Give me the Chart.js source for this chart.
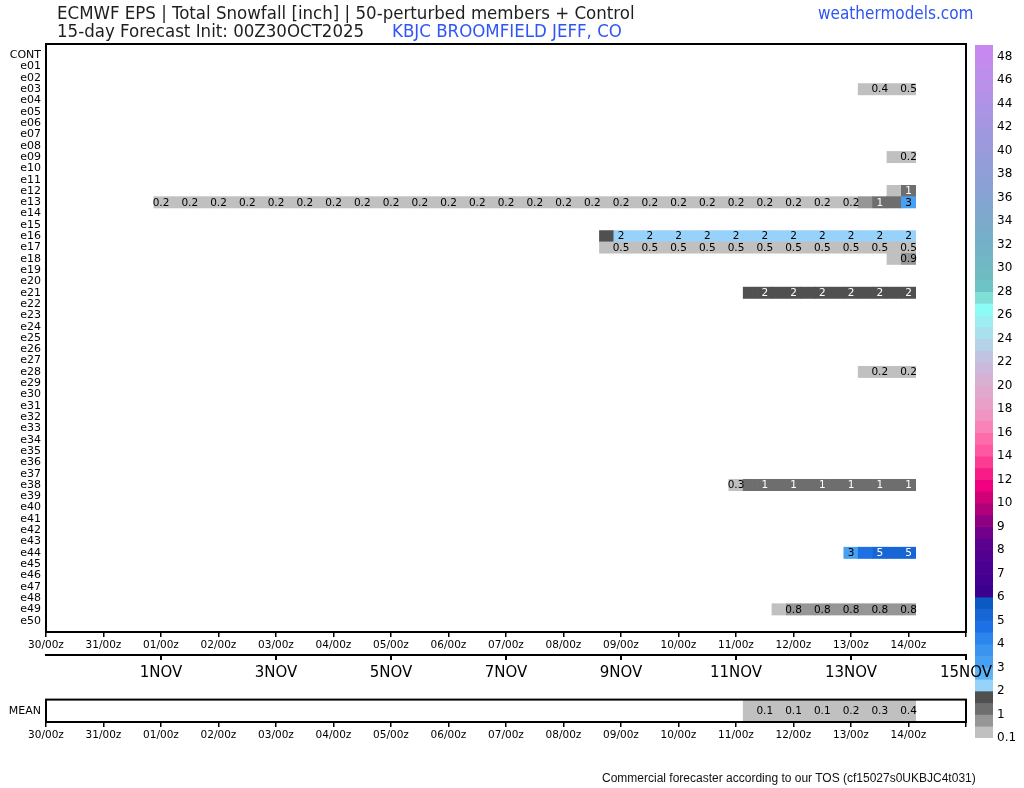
<!DOCTYPE html>
<html>
<head>
<meta charset="utf-8">
<script src="https://cdn.jsdelivr.net/npm/chart.js@4.4.1/dist/chart.umd.min.js"></script>
<style>
  body { margin: 0; background: #fff; width: 1024px; height: 788px; position: relative; overflow: hidden; }
  canvas { position: absolute; }
  .txt { position: absolute; white-space: nowrap; line-height: 1; }
  #title, #sub, #station, #site { font-family: 'Liberation Sans Narrow', 'DejaVu Sans Condensed', 'Roboto', sans-serif; font-size: 18.5px; color: #1e1e1e; }
  #title { left: 57px; top: 4px; }
  #sub { left: 57px; top: 22px; }
  #station { left: 392px; top: 22px; color: #2f55f4; }
  #site { left: 818px; top: 5px; font-size: 17px; color: #2f55f4; }
  #foot { left: 602px; top: 771px; font: 12px 'Liberation Sans', Arial, sans-serif; color: #111; }
</style>
</head>
<body>
<canvas id="bar" width="64" height="788" style="left:960px;top:0"></canvas>
<canvas id="grid" width="1024" height="690" style="left:0;top:0"></canvas>
<canvas id="mean" width="1024" height="60" style="left:0;top:688px"></canvas>
<div class="txt" id="title">ECMWF EPS | Total Snowfall [inch] | 50-perturbed members + Control</div>
<div class="txt" id="sub">15-day Forecast Init: 00Z30OCT2025</div>
<div class="txt" id="station">KBJC BROOMFIELD JEFF, CO</div>
<div class="txt" id="site">weathermodels.com</div>
<div class="txt" id="foot">Commercial forecaster according to our TOS (cf15027s0UKBJC4t031)</div>
<script>
// rows, top to bottom
const memberNames = ['CONT', 'e01', 'e02', 'e03', 'e04', 'e05', 'e06', 'e07', 'e08', 'e09', 'e10',
  'e11', 'e12', 'e13', 'e14', 'e15', 'e16', 'e17', 'e18', 'e19', 'e20',
  'e21', 'e22', 'e23', 'e24', 'e25', 'e26', 'e27', 'e28', 'e29', 'e30',
  'e31', 'e32', 'e33', 'e34', 'e35', 'e36', 'e37', 'e38', 'e39', 'e40',
  'e41', 'e42', 'e43', 'e44', 'e45', 'e46', 'e47', 'e48', 'e49', 'e50'];

const dayLabels = ['30/00z', '31/00z', '01/00z', '02/00z', '03/00z', '04/00z', '05/00z', '06/00z',
  '07/00z', '08/00z', '09/00z', '10/00z', '11/00z', '12/00z', '13/00z', '14/00z'];
const dateLabels = ['1NOV', '3NOV', '5NOV', '7NOV', '9NOV', '11NOV', '13NOV', '15NOV'];

// accumulated snowfall [inch], 6-hourly, starting at the first step that has snow
const e03 = { from: '13/06z', snow: [0.3, 0.4, 0.45, 0.47] };
const e09 = { from: '13/18z', snow: [0.15, 0.2] };
const e12 = { from: '13/18z', snow: [0.3, 1.1] };
const e13 = { from: '01/00z', snow: [0.2, 0.2, 0.2, 0.2, 0.2, 0.2, 0.2, 0.2, 0.2, 0.2, 0.2, 0.2, 0.2, 0.2,
  0.2, 0.2, 0.2, 0.2, 0.2, 0.2, 0.2, 0.2, 0.2, 0.2, 0.2, 0.2, 0.2, 0.2, 0.2, 0.2, 0.2, 0.2, 0.2, 0.2, 0.2,
  0.2, 0.2, 0.2, 0.2, 0.2, 0.2, 0.2, 0.2, 0.2, 0.2, 0.2, 0.2, 0.2, 0.2, 0.7, 1.2, 1.3, 3.2] };
const e16 = { from: '08/18z', snow: [1.7, 2.2, 2.2, 2.2, 2.2, 2.2, 2.2, 2.2, 2.2, 2.2, 2.2, 2.2,
  2.2, 2.2, 2.2, 2.2, 2.2, 2.2, 2.2, 2.2, 2.2, 2.2] };
const e17 = { from: '08/18z', snow: [0.46, 0.46, 0.46, 0.46, 0.46, 0.46, 0.46, 0.46, 0.46, 0.46, 0.46,
  0.46, 0.46, 0.46, 0.46, 0.46, 0.46, 0.46, 0.46, 0.46, 0.46, 0.46] };
const e18 = { from: '13/18z', snow: [0.4, 0.9] };
const e21 = { from: '11/06z', snow: [1.8, 1.8, 1.8, 1.8, 1.8, 1.8, 1.8, 1.8, 1.8, 1.8, 1.8, 1.8] };
const e28 = { from: '13/06z', snow: [0.2, 0.2, 0.2, 0.2] };
const e38 = { from: '11/00z', snow: [0.3, 1.1, 1.1, 1.1, 1.1, 1.1, 1.1, 1.1, 1.1, 1.1, 1.1, 1.1, 1.1] };
const e44 = { from: '13/00z', snow: [3.2, 4.8, 5.2, 5.2, 5.2] };
const e49 = { from: '11/18z', snow: [0.4, 0.8, 0.8, 0.8, 0.8, 0.8, 0.8, 0.8, 0.8, 0.8] };
const ensMean = { from: '11/06z', snow: [0.1, 0.1, 0.1, 0.1, 0.1, 0.1, 0.15, 0.2, 0.25, 0.3, 0.35, 0.4] };

// colour scale: lower bound of every band, its colour, and the labels on the bar
const levels = [0.1, 0.5, 1, 1.5, 2, 2.5, 3, 3.5, 4, 4.5, 5, 5.5, 6, 6.5, 7, 7.5, 8, 8.5, 9, 9.5,
  10, 11, 12, 13, 14, 15, 16, 17, 18, 19, 20, 21, 22, 23, 24, 25, 26, 27, 28, 29,
  30, 31, 32, 33, 34, 35, 36, 37, 38, 39, 40, 41, 42, 43, 44, 45, 46, 47, 48];
const levelColors = ['#c0c0c0', '#969696', '#6e6e6e', '#505050',
  '#96d2fa', '#5ab4f5', '#48a0f0', '#3a94f0', '#2a86ea', '#1e70e6', '#1866d6', '#0a5ac2',
  '#3c008e', '#440090', '#4a0090', '#520090', '#5c0090', '#72008a', '#900082', '#b0007a',
  '#d00078', '#f00080', '#f81c86', '#fc3c92', '#ff58a2', '#ff6cac', '#fa82b8', '#f094c2', '#e8a0c8', '#e0a8cc',
  '#d8b0d2', '#ccb8da', '#c0c4e2', '#b4d2e8', '#a8e0ec', '#9ceef2', '#8cfcf6', '#80e0d8', '#6ec4c4',
  '#6ebcc2', '#70b8c4', '#72b4c6', '#76b0c8', '#7aacca', '#7ea8cc', '#82a6d0', '#88a2d4', '#8ca0d6',
  '#929ed8', '#969cda', '#9c9adc', '#a098de', '#a696e2', '#ac94e4', '#b292e6', '#b890e8', '#be8eec',
  '#c48cee', '#c888f2'];
const barTickLabels = ['0.1', '1', '2', '3', '4', '5', '6', '7', '8', '9', '10', '12', '14', '16', '18',
  '20', '22', '24', '26', '28', '30', '32', '34', '36', '38', '40', '42', '44', '46', '48'];

Chart.defaults.font.family = 'DejaVu Sans';
Chart.defaults.font.size = 10.5;
Chart.defaults.color = '#000';

function hoursOf(stamp) {
  const day = parseInt(stamp.slice(0, 2), 10);
  const hh = parseInt(stamp.slice(3, 5), 10);
  return (day >= 30 ? day - 30 : day + 1) * 24 + hh;
}

function levelIndex(v) {
  let idx = 0;
  levels.forEach((lv, i) => { if (v >= lv) idx = i; });
  return idx;
}

function textColor(hex) {
  const r = parseInt(hex.slice(1, 3), 16), g = parseInt(hex.slice(3, 5), 16), b = parseInt(hex.slice(5, 7), 16);
  return (0.299 * r + 0.587 * g + 0.114 * b) / 255 < 0.45 ? '#fff' : '#000';
}

const fmt = v => v < 1 ? v.toFixed(1) : String(Math.round(v));

function buildCells(runs) {
  const cells = [];
  Object.entries(runs).forEach(([name, run]) => {
    const h0 = hoursOf(run.from);
    run.snow.forEach((v, i) => {
      const h = h0 + i * 6;
      cells.push({ x: [h - 3, h + 3], y: name, v, h });
    });
  });
  return cells;
}

const dayTicks = dayLabels.map(hoursOf).concat([384]);
const dateTicks = dateLabels.map(s => (parseInt(s, 10) + 1) * 24);

// black frame round the plot area
const framePlugin = {
  id: 'frame',
  afterDraw(chart) {
    const { ctx, chartArea: a } = chart;
    if (!chart.options.plugins.frame) return;
    ctx.save();
    ctx.strokeStyle = '#000';
    ctx.lineWidth = 2;
    ctx.strokeRect(a.left, a.top, a.right - a.left, a.bottom - a.top);
    ctx.restore();
  }
};

// numbers written into the 00z/12z cells
const cellText = {
  id: 'cellText',
  afterDatasetsDraw(chart) {
    if (!chart.options.plugins.cellText) return;
    const { ctx } = chart;
    const ds = chart.data.datasets[0];
    chart.getDatasetMeta(0).data.forEach((bar, i) => {
      const c = ds.data[i];
      if (c.h % 12 !== 0) return;
      const p = bar.getCenterPoint();
      ctx.save();
      ctx.font = '10.5px "DejaVu Sans"';
      ctx.textAlign = 'center';
      ctx.textBaseline = 'middle';
      ctx.fillStyle = textColor(levelColors[levelIndex(c.v)]);
      ctx.fillText(fmt(c.v), p.x, p.y + 0.5);
      ctx.restore();
    });
  }
};

function timeAxis(height, weight) {
  return {
    type: 'linear', position: 'bottom', min: 0, max: 384, weight,
    afterBuildTicks: s => { s.ticks = dayTicks.map(value => ({ value })); },
    afterFit: s => { s.height = height; },
    ticks: { callback: (v, i) => dayLabels[i] || '', autoSkip: false, maxRotation: 0, padding: 1.5 },
    grid: { drawOnChartArea: false, tickLength: 5, color: '#000', lineWidth: 1.5 },
    border: { display: false }
  };
}

new Chart(document.getElementById('grid'), {
  type: 'bar',
  data: {
    labels: [''].concat(memberNames, [' ']),
    datasets: [{
      data: buildCells({ e03, e09, e12, e13, e16, e17, e18, e21, e28, e38, e44, e49 }),
      backgroundColor: c => c.raw ? levelColors[levelIndex(c.raw.v)] : '#fff',
      grouped: false, barPercentage: 1, categoryPercentage: 1, borderWidth: 0
    }]
  },
  options: {
    indexAxis: 'y', responsive: false, animation: false,
    layout: { padding: { top: 44, right: 58, left: 0, bottom: 0 } },
    plugins: { legend: { display: false }, tooltip: { enabled: false }, frame: true, cellText: true },
    scales: {
      y: {
        type: 'category', offset: false,
        afterFit: s => { s.width = 46; },
        ticks: { autoSkip: false, padding: 5, font: { size: 11 } },
        grid: { display: false, drawTicks: false },
        border: { display: false }
      },
      x: timeAxis(23, 0),
      x2: {
        type: 'linear', position: 'bottom', min: 0, max: 384, weight: 1,
        afterBuildTicks: s => { s.ticks = dateTicks.map(value => ({ value })); },
        afterFit: s => { s.height = 35; },
        ticks: { callback: (v, i) => dateLabels[i], autoSkip: false, maxRotation: 0, padding: 4, font: { size: 15 } },
        grid: { drawOnChartArea: false, tickLength: 5, color: '#000', lineWidth: 2 },
        border: { display: true, color: '#000', width: 2 }
      }
    }
  },
  plugins: [framePlugin, cellText]
});

new Chart(document.getElementById('mean'), {
  type: 'bar',
  data: {
    labels: ['MEAN'],
    datasets: [{
      data: buildCells({ MEAN: ensMean }),
      backgroundColor: c => c.raw ? levelColors[levelIndex(c.raw.v)] : '#fff',
      grouped: false, barPercentage: 1, categoryPercentage: 1, borderWidth: 0
    }]
  },
  options: {
    indexAxis: 'y', responsive: false, animation: false,
    layout: { padding: { top: 7, right: 58, left: 0, bottom: 0 } },
    plugins: { legend: { display: false }, tooltip: { enabled: false }, frame: true, cellText: true },
    scales: {
      y: {
        type: 'category',
        afterFit: s => { s.width = 46; },
        ticks: { padding: 5, font: { size: 11 } },
        grid: { display: false, drawTicks: false },
        border: { display: false }
      },
      x: timeAxis(26, 0)
    }
  },
  plugins: [framePlugin, cellText]
});

// colour bar
new Chart(document.getElementById('bar'), {
  type: 'bar',
  data: {
    labels: ['cb'],
    datasets: [{
      data: levels.map((lv, i) => ({ x: 'cb', y: [i, i + 1] })),
      backgroundColor: levelColors,
      grouped: false, barPercentage: 1, categoryPercentage: 1, borderWidth: 0
    }]
  },
  options: {
    responsive: false, animation: false,
    layout: { padding: { top: 45, left: 15, bottom: 50, right: 0 } },
    plugins: { legend: { display: false }, tooltip: { enabled: false } },
    scales: {
      x: { display: false },
      y: {
        type: 'linear', position: 'right', min: 0, max: levels.length,
        afterBuildTicks: s => { s.ticks = barTickLabels.map((t, i) => ({ value: i * 2 })); },
        afterFit: s => { s.width = 31; },
        ticks: { callback: (v, i) => barTickLabels[i], autoSkip: false, padding: 4, font: { size: 12 } },
        grid: { display: false, drawTicks: false },
        border: { display: false }
      }
    }
  }
});
</script>
</body>
</html>
